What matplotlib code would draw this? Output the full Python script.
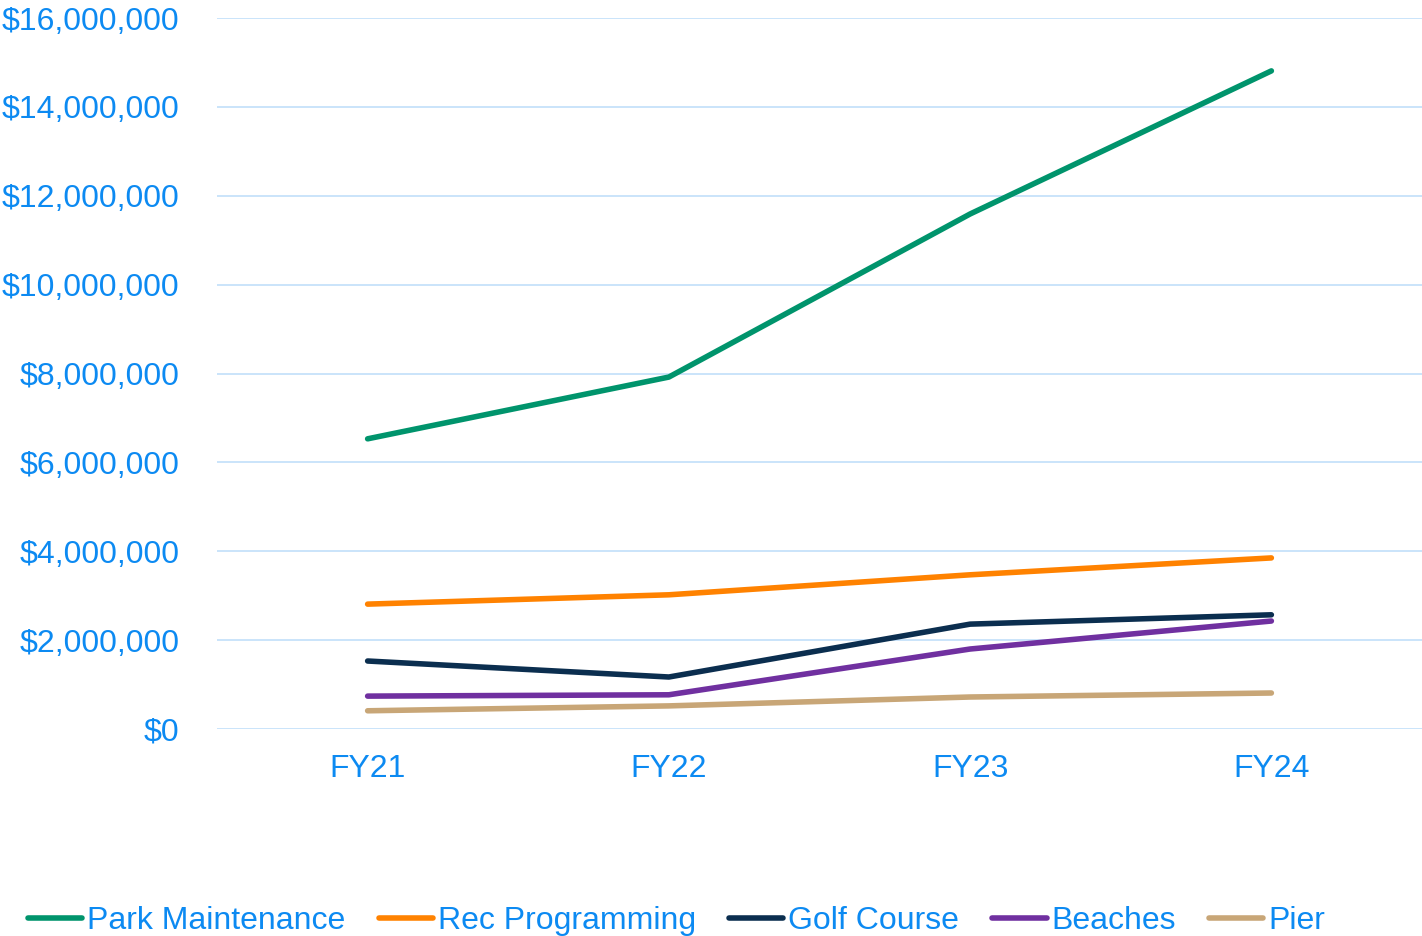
import matplotlib.pyplot as plt
from matplotlib.ticker import FuncFormatter

years = ["FY21", "FY22", "FY23", "FY24"]
park_maintenance = [6530000, 7920000, 11590000, 14810000]
rec_programming = [2810000, 3020000, 3470000, 3850000]
golf_course = [1530000, 1170000, 2360000, 2570000]
beaches = [740000, 770000, 1800000, 2430000]
pier = [410000, 520000, 720000, 810000]

series = [
    ("Park Maintenance", park_maintenance, "#00946C"),
    ("Rec Programming", rec_programming, "#FF8200"),
    ("Golf Course", golf_course, "#0B2E4F"),
    ("Beaches", beaches, "#7030A0"),
    ("Pier", pier, "#C8A677"),
]

plt.rcParams['font.family'] = ['Liberation Sans', 'DejaVu Sans']
text_color = "#0C8AF2"

fig = plt.figure(figsize=(14.22, 9.36), dpi=100)
ax = fig.add_axes([217 / 1422, 1 - 729 / 936, 1 - 217 / 1422, (729 - 18) / 936])

x = range(len(years))
for name, vals, col in series:
    ax.plot(x, vals, color=col, linewidth=4, solid_capstyle='round', label=name)

ax.set_xlim(-0.5, len(years) - 0.5)
ax.set_ylim(0, 16000000)
ax.set_yticks(range(0, 16000001, 2000000))
ax.yaxis.set_major_formatter(FuncFormatter(lambda v, p: "${:,.0f}".format(v)))
ax.set_xticks(list(x))
ax.set_xticklabels(years)
ax.grid(axis='y', color="#C6E2FA", linewidth=1.3)
ax.set_axisbelow(True)
for s in ax.spines.values():
    s.set_visible(False)
ax.tick_params(axis='both', length=0, labelsize=23, colors=text_color)
ax.tick_params(axis='y', pad=27)
ax.tick_params(axis='x', pad=18)

fig.legend(loc='center left', bbox_to_anchor=(28 / 1422, 1 - 921 / 936), ncol=5,
           frameon=False, fontsize=23, labelcolor=text_color, handlelength=1.7,
           handletextpad=0.15, columnspacing=1.04, borderpad=0, borderaxespad=0)

fig.savefig("out.png", dpi=100)
